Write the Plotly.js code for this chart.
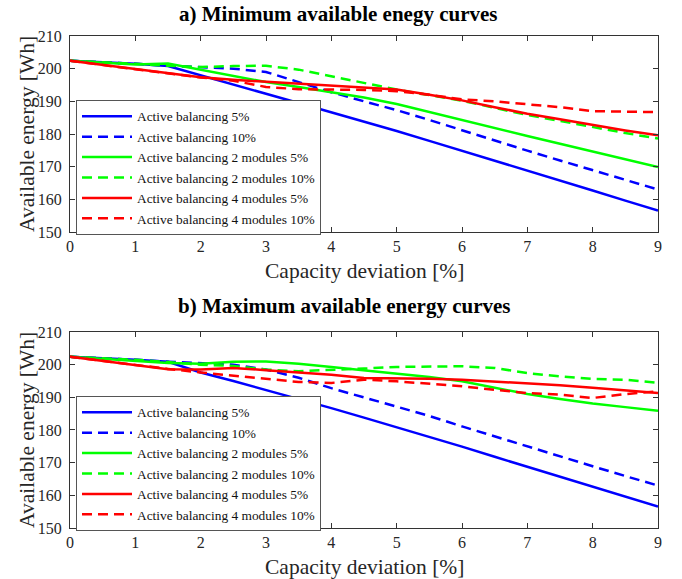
<!DOCTYPE html>
<html>
<head>
<meta charset="utf-8">
<script src="https://cdn.plot.ly/plotly-3.0.1.min.js"></script>
<style>html,body{margin:0;padding:0;background:#fff;}#chart{width:682px;height:579px;}</style>
</head>
<body>
<div id="chart"></div>
<script>
// Capacity deviation [%]
const capDev = [0,0.5,1,1.5,2,2.5,3,3.5,4,4.5,5,5.5,6,6.5,7,7.5,8,8.5,9];
const xTicks = [0,1,2,3,4,5,6,7,8,9];
const yTicks = [150,160,170,180,190,200,210];

const seriesNames = [
  'Active balancing 5%',
  'Active balancing 10%',
  'Active balancing 2 modules 5%',
  'Active balancing 2 modules 10%',
  'Active balancing 4 modules 5%',
  'Active balancing 4 modules 10%'
];

// a) Minimum available energy [Wh]
const minAB5    = [202.4,202.0,201.5,200.8,197.9,195.1,192.3,189.5,186.7,183.8,180.9,177.9,174.9,171.8,168.8,165.7,162.7,159.6,156.6];
const minAB10   = [202.4,202.0,201.5,200.9,200.5,200.0,199.0,195.8,192.8,190.0,187.3,184.3,181.1,178.0,174.9,171.9,168.9,165.9,163.0];
const minAB2m5  = [202.4,201.9,201.3,201.6,199.7,197.9,195.9,194.4,192.9,191.2,189.2,186.7,184.2,181.8,179.4,177.0,174.6,172.2,169.9];
const minAB2m10 = [202.4,202.0,201.5,200.9,200.5,200.8,200.9,199.7,197.7,195.6,193.6,191.9,190.2,188.0,185.8,184.0,182.1,180.3,178.6];
const minAB4m5  = [202.4,201.1,199.8,198.6,197.4,196.6,196.0,195.4,194.9,194.2,193.6,192.0,190.3,188.2,186.2,184.5,182.7,181.1,179.6];
const minAB4m10 = [202.4,201.1,199.8,198.6,197.3,196.3,194.4,193.7,193.6,193.5,193.1,192.0,190.6,190.0,189.1,188.2,187.0,186.9,186.7];

// b) Maximum available energy [Wh]
const maxAB5    = [202.4,202.0,201.5,200.9,197.6,195.0,192.3,189.5,186.7,183.8,180.9,177.9,174.9,171.8,168.8,165.7,162.7,159.6,156.6];
const maxAB10   = [202.4,202.0,201.5,200.9,200.5,200.0,198.5,196.0,192.8,190.0,187.3,184.3,181.1,178.0,174.9,171.9,168.9,165.9,163.0];
const maxAB2m5  = [202.4,201.7,201.0,200.5,200.3,200.9,201.0,200.3,199.3,198.3,197.4,196.2,194.9,192.9,191.0,189.5,188.1,187.0,185.9];
const maxAB2m10 = [202.4,202.0,201.5,200.8,200.0,199.6,198.5,198.0,198.3,198.8,199.3,199.5,199.5,199.0,197.4,196.4,195.6,195.4,194.4];
const maxAB4m5  = [202.4,201.1,199.9,198.6,198.5,199.0,198.3,197.7,196.9,195.9,195.9,195.7,195.4,194.9,194.4,193.7,192.9,192.1,191.3];
const maxAB4m10 = [202.4,201.1,199.9,198.7,197.6,196.7,195.7,194.7,194.4,195.4,194.9,194.2,193.4,192.3,191.3,190.8,189.8,191.0,191.8];

const colors = ['#0000ff','#0000ff','#00ff00','#00ff00','#ff0000','#ff0000'];
const dashes = ['solid','10px,6px','solid','10px,6px','solid','10px,6px'];

const minSeries = [minAB5,minAB10,minAB2m5,minAB2m10,minAB4m5,minAB4m10];
const maxSeries = [maxAB5,maxAB10,maxAB2m5,maxAB2m10,maxAB4m5,maxAB4m10];

const traces = [];
minSeries.forEach((ys,i)=>{
  traces.push({x:capDev,y:ys,type:'scatter',mode:'lines',name:seriesNames[i],
    xaxis:'x',yaxis:'y',legend:'legend',
    line:{color:colors[i],width:2.5,dash:dashes[i]}});
});
maxSeries.forEach((ys,i)=>{
  traces.push({x:capDev,y:ys,type:'scatter',mode:'lines',name:seriesNames[i],
    xaxis:'x2',yaxis:'y2',legend:'legend2',
    line:{color:colors[i],width:2.5,dash:dashes[i]}});
});

const FONT = 'Liberation Serif, Times New Roman, serif';
const axisCommon = {
  showline:true, linecolor:'#333', linewidth:1, mirror:'ticks',
  ticks:'inside', ticklen:5, tickcolor:'#333', tickwidth:1,
  showgrid:false, zeroline:false,
  tickfont:{family:FONT,size:16,color:'#262626'}
};
const xax = Object.assign({}, axisCommon, {range:[0,9], tickvals:xTicks, ticktext:xTicks.map(String)});
const yax = Object.assign({}, axisCommon, {range:[150,210], tickvals:yTicks, ticktext:yTicks.map(String), ticklabelstandoff:4});

const legendCommon = {
  xref:'paper', yref:'paper', xanchor:'left', yanchor:'top',
  bgcolor:'#ffffff', bordercolor:'#555', borderwidth:1,
  font:{family:FONT,size:13.4,color:'#111'}, itemwidth:50, tracegroupgap:0
};

const titleFont = {family:FONT,size:21,color:'#000'};
const axTitleFont = {family:FONT,size:21.5,color:'#262626'};

const layout = {
  width:682, height:579,
  margin:{l:70,r:24,t:36,b:51},
  paper_bgcolor:'#fff', plot_bgcolor:'#fff',
  showlegend:true,
  xaxis:Object.assign({}, xax, {domain:[0,1], anchor:'y'}),
  yaxis:Object.assign({}, yax, {domain:[0.6016,1], anchor:'x'}),
  xaxis2:Object.assign({}, xax, {domain:[0,1], anchor:'y2'}),
  yaxis2:Object.assign({}, yax, {domain:[0,0.3984], anchor:'x2'}),
  legend:Object.assign({}, legendCommon, {x:0.0102, y:0.8699}),
  legend2:Object.assign({}, legendCommon, {x:0.0102, y:0.2683}),
  annotations:[
    {text:'<b>a) Minimum available enegy curves</b>', xref:'paper', yref:'paper', x:0.4558, y:1.0447, xanchor:'center', yanchor:'middle', showarrow:false, font:titleFont},
    {text:'<b>b) Maximum available energy curves</b>', xref:'paper', yref:'paper', x:0.466, y:0.4512, xanchor:'center', yanchor:'middle', showarrow:false, font:titleFont},
    {text:'Capacity deviation [%]', xref:'paper', yref:'paper', x:0.5, y:0.5224, xanchor:'center', yanchor:'middle', showarrow:false, font:axTitleFont},
    {text:'Capacity deviation [%]', xref:'paper', yref:'paper', x:0.5, y:-0.0793, xanchor:'center', yanchor:'middle', showarrow:false, font:axTitleFont},
    {text:'Available energy [Wh]', xref:'paper', yref:'paper', x:-0.0731, y:0.8008, xanchor:'center', yanchor:'middle', textangle:-90, showarrow:false, font:axTitleFont},
    {text:'Available energy [Wh]', xref:'paper', yref:'paper', x:-0.0731, y:0.1992, xanchor:'center', yanchor:'middle', textangle:-90, showarrow:false, font:axTitleFont}
  ]
};

Plotly.newPlot('chart', traces, layout, {staticPlot:true, displayModeBar:false});
</script>
</body>
</html>
